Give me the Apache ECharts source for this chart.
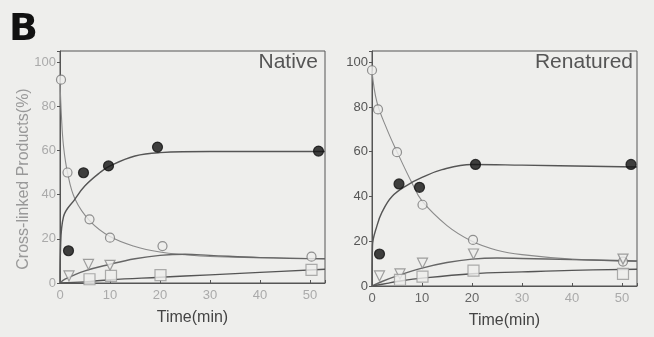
<!DOCTYPE html>
<html>
<head>
<meta charset="utf-8">
<script src="https://cdn.jsdelivr.net/npm/echarts@6/dist/echarts.min.js"></script>
<style>
  html, body { margin: 0; padding: 0; background: #eeeeec; }
  #chart { width: 654px; height: 337px; }
</style>
</head>
<body>
<div id="chart"></div>
<script>
// Native panel: measured points [time, %]
const nativeOpenCircle = [[0.2, 92], [1.5, 50], [5.9, 28.8], [10, 20.5], [20.5, 16.7], [50.3, 11.9]];
const nativeFilled = [[1.7, 14.6], [4.7, 49.9], [9.7, 53], [19.5, 61.5], [51.7, 59.7]];
const nativeTriangle = [[1.8, 3.2], [5.7, 8.4], [10, 8]];
const nativeSquare = [[5.9, 1.7], [10.2, 3.2], [20.1, 3.6], [50.3, 5.9]];
// Native fitted curves
const nativeOpenFit = [[0, 92], [0.3, 75], [0.7, 62], [1.5, 50], [3, 38], [6, 28], [10, 21], [15, 16.5], [20, 14], [25, 12.8], [30, 12], [40, 11.5], [53, 11]];
const nativeFilledFit = [[0, 0], [0.1, 15], [0.7, 30], [3, 38], [5, 44], [8, 50], [10, 53], [15, 57.5], [20, 59], [30, 59.5], [53, 59.5]];
const nativeTriangleFit = [[0, 0], [1, 1.7], [5, 5.5], [10, 8.5], [15, 11], [20, 12.5], [25, 13], [30, 12.5], [40, 11.5], [53, 11]];
const nativeSquareFit = [[0, 0], [5, 0.5], [10, 1.5], [20, 2.6], [30, 3.7], [40, 4.8], [53, 6.2]];

// Renatured panel
const renOpenCircle = [[0, 96.4], [1.2, 78.9], [5, 59.8], [10.1, 36.3], [20.2, 20.6], [50.2, 10.9]];
const renFilled = [[1.5, 14.3], [5.4, 45.6], [9.5, 44.1], [20.7, 54.3], [51.8, 54.3]];
const renTriangle = [[1.5, 4.5], [5.6, 5.4], [10.1, 10.2], [20.3, 14.3], [50.2, 12]];
const renSquare = [[5.6, 2.7], [10.1, 4.2], [20.3, 6.9], [50.2, 5.4]];
const renOpenFit = [[0, 96], [1, 82], [3, 70], [5, 60], [8, 46], [10, 38], [15, 27], [20, 20], [25, 16], [30, 14], [40, 12], [53, 11]];
const renFilledFit = [[0, 0], [0.1, 18], [1, 27], [2, 33], [4, 40], [7, 45], [10, 48.5], [14, 52], [20, 54.3], [30, 54], [53, 53.2]];
const renTriangleFit = [[0, 0], [2, 2], [5, 4.5], [10, 8], [15, 10.5], [20, 12], [25, 12.5], [30, 12.3], [40, 11.8], [53, 11.2]];
const renSquareFit = [[0, 0], [3, 1.2], [5, 2], [10, 3.5], [20, 5.5], [30, 6.3], [40, 7], [53, 7.5]];

const yTicks = [0, 20, 40, 60, 80, 100];
const xTicks = [0, 10, 20, 30, 40, 50];

const BG = '#eeeeec';
const FONT = '"Liberation Sans", Arial, sans-serif';

const chart = echarts.init(document.getElementById('chart'));

function xAxis(gridIndex, labelColor) {
  return {
    type: 'value', gridIndex, min: 0, max: 53, interval: 10,
    name: 'Time(min)', nameLocation: 'middle', nameGap: 27,
    nameTextStyle: { color: '#444', fontSize: 16, fontFamily: FONT },
    axisLine: { show: true, lineStyle: { color: '#555' } },
    axisTick: { show: true, length: 3, inside: true, lineStyle: { color: '#555' } },
    axisLabel: {
      color: labelColor, fontSize: 13, fontFamily: FONT, margin: 6,
      formatter: v => xTicks.includes(v) ? String(v) : ''
    },
    splitLine: { show: false }
  };
}

function yAxis(gridIndex, labelColor) {
  return {
    type: 'value', gridIndex, min: 0, max: 105, interval: 20,
    axisLine: { show: true, lineStyle: { color: '#555' } },
    axisTick: { show: true, length: 3, lineStyle: { color: '#555' } },
    axisLabel: {
      color: labelColor, fontSize: 13, fontFamily: FONT, margin: 4,
      formatter: v => yTicks.includes(v) ? String(v) : ''
    },
    splitLine: { show: false }
  };
}

function fit(data, idx, color, width) {
  return {
    type: 'line', xAxisIndex: idx, yAxisIndex: idx, data, smooth: 0.4,
    showSymbol: false, silent: true,
    lineStyle: { color, width }, z: 2
  };
}

function marks(data, idx, symbol, size, fill, border, rotate) {
  return {
    type: 'scatter', xAxisIndex: idx, yAxisIndex: idx, data, symbol, symbolSize: size,
    symbolRotate: rotate || 0,
    itemStyle: { color: fill, borderColor: border, borderWidth: 1.2 }, z: 3
  };
}

function panel(idx, open, filled, tri, sq, openFit, filledFit, triFit, sqFit) {
  return [
    fit(openFit, idx, '#8a8a8a', 1.1),
    fit(filledFit, idx, '#555', 1.4),
    fit(triFit, idx, '#666', 1.4),
    fit(sqFit, idx, '#555', 1.4),
    marks(open, idx, 'circle', 9, BG, '#777'),
    marks(filled, idx, 'circle', 10, '#111', '#111'),
    marks(tri, idx, 'triangle', 10, BG, '#888', 180),
    marks(sq, idx, 'rect', 11, BG, '#999')
  ];
}

chart.setOption({
  backgroundColor: BG,
  animation: false,
  grid: [
    { left: 60, top: 51, width: 265, height: 232, show: true, borderColor: '#555', borderWidth: 1, backgroundColor: 'transparent' },
    { left: 372, top: 51, width: 265, height: 235, show: true, borderColor: '#555', borderWidth: 1, backgroundColor: 'transparent' }
  ],
  xAxis: [
    xAxis(0, '#aaa'),
    xAxis(1, (v) => v <= 20 ? '#666' : '#aaa')
  ],
  yAxis: [
    yAxis(0, '#aaa'),
    yAxis(1, '#555')
  ],
  graphic: [
    { type: 'text', left: 9, top: 11, style: { text: 'B', font: '900 38px "DejaVu Sans", sans-serif', fill: '#111' } },
    {
      type: 'text', x: 24, y: 179, rotation: Math.PI / 2,
      style: { text: 'Cross-linked Products(%)', font: '16px ' + FONT, fill: '#999', align: 'center', verticalAlign: 'middle' }
    },
    { type: 'text', right: 654 - 318, top: 52, style: { text: 'Native', font: '21px ' + FONT, fill: '#555' } },
    { type: 'text', right: 654 - 633, top: 52, style: { text: 'Renatured', font: '21px ' + FONT, fill: '#555' } }
  ],
  series: [
    ...panel(0, nativeOpenCircle, nativeFilled, nativeTriangle, nativeSquare,
      nativeOpenFit, nativeFilledFit, nativeTriangleFit, nativeSquareFit),
    ...panel(1, renOpenCircle, renFilled, renTriangle, renSquare,
      renOpenFit, renFilledFit, renTriangleFit, renSquareFit)
  ]
});
</script>
</body>
</html>
